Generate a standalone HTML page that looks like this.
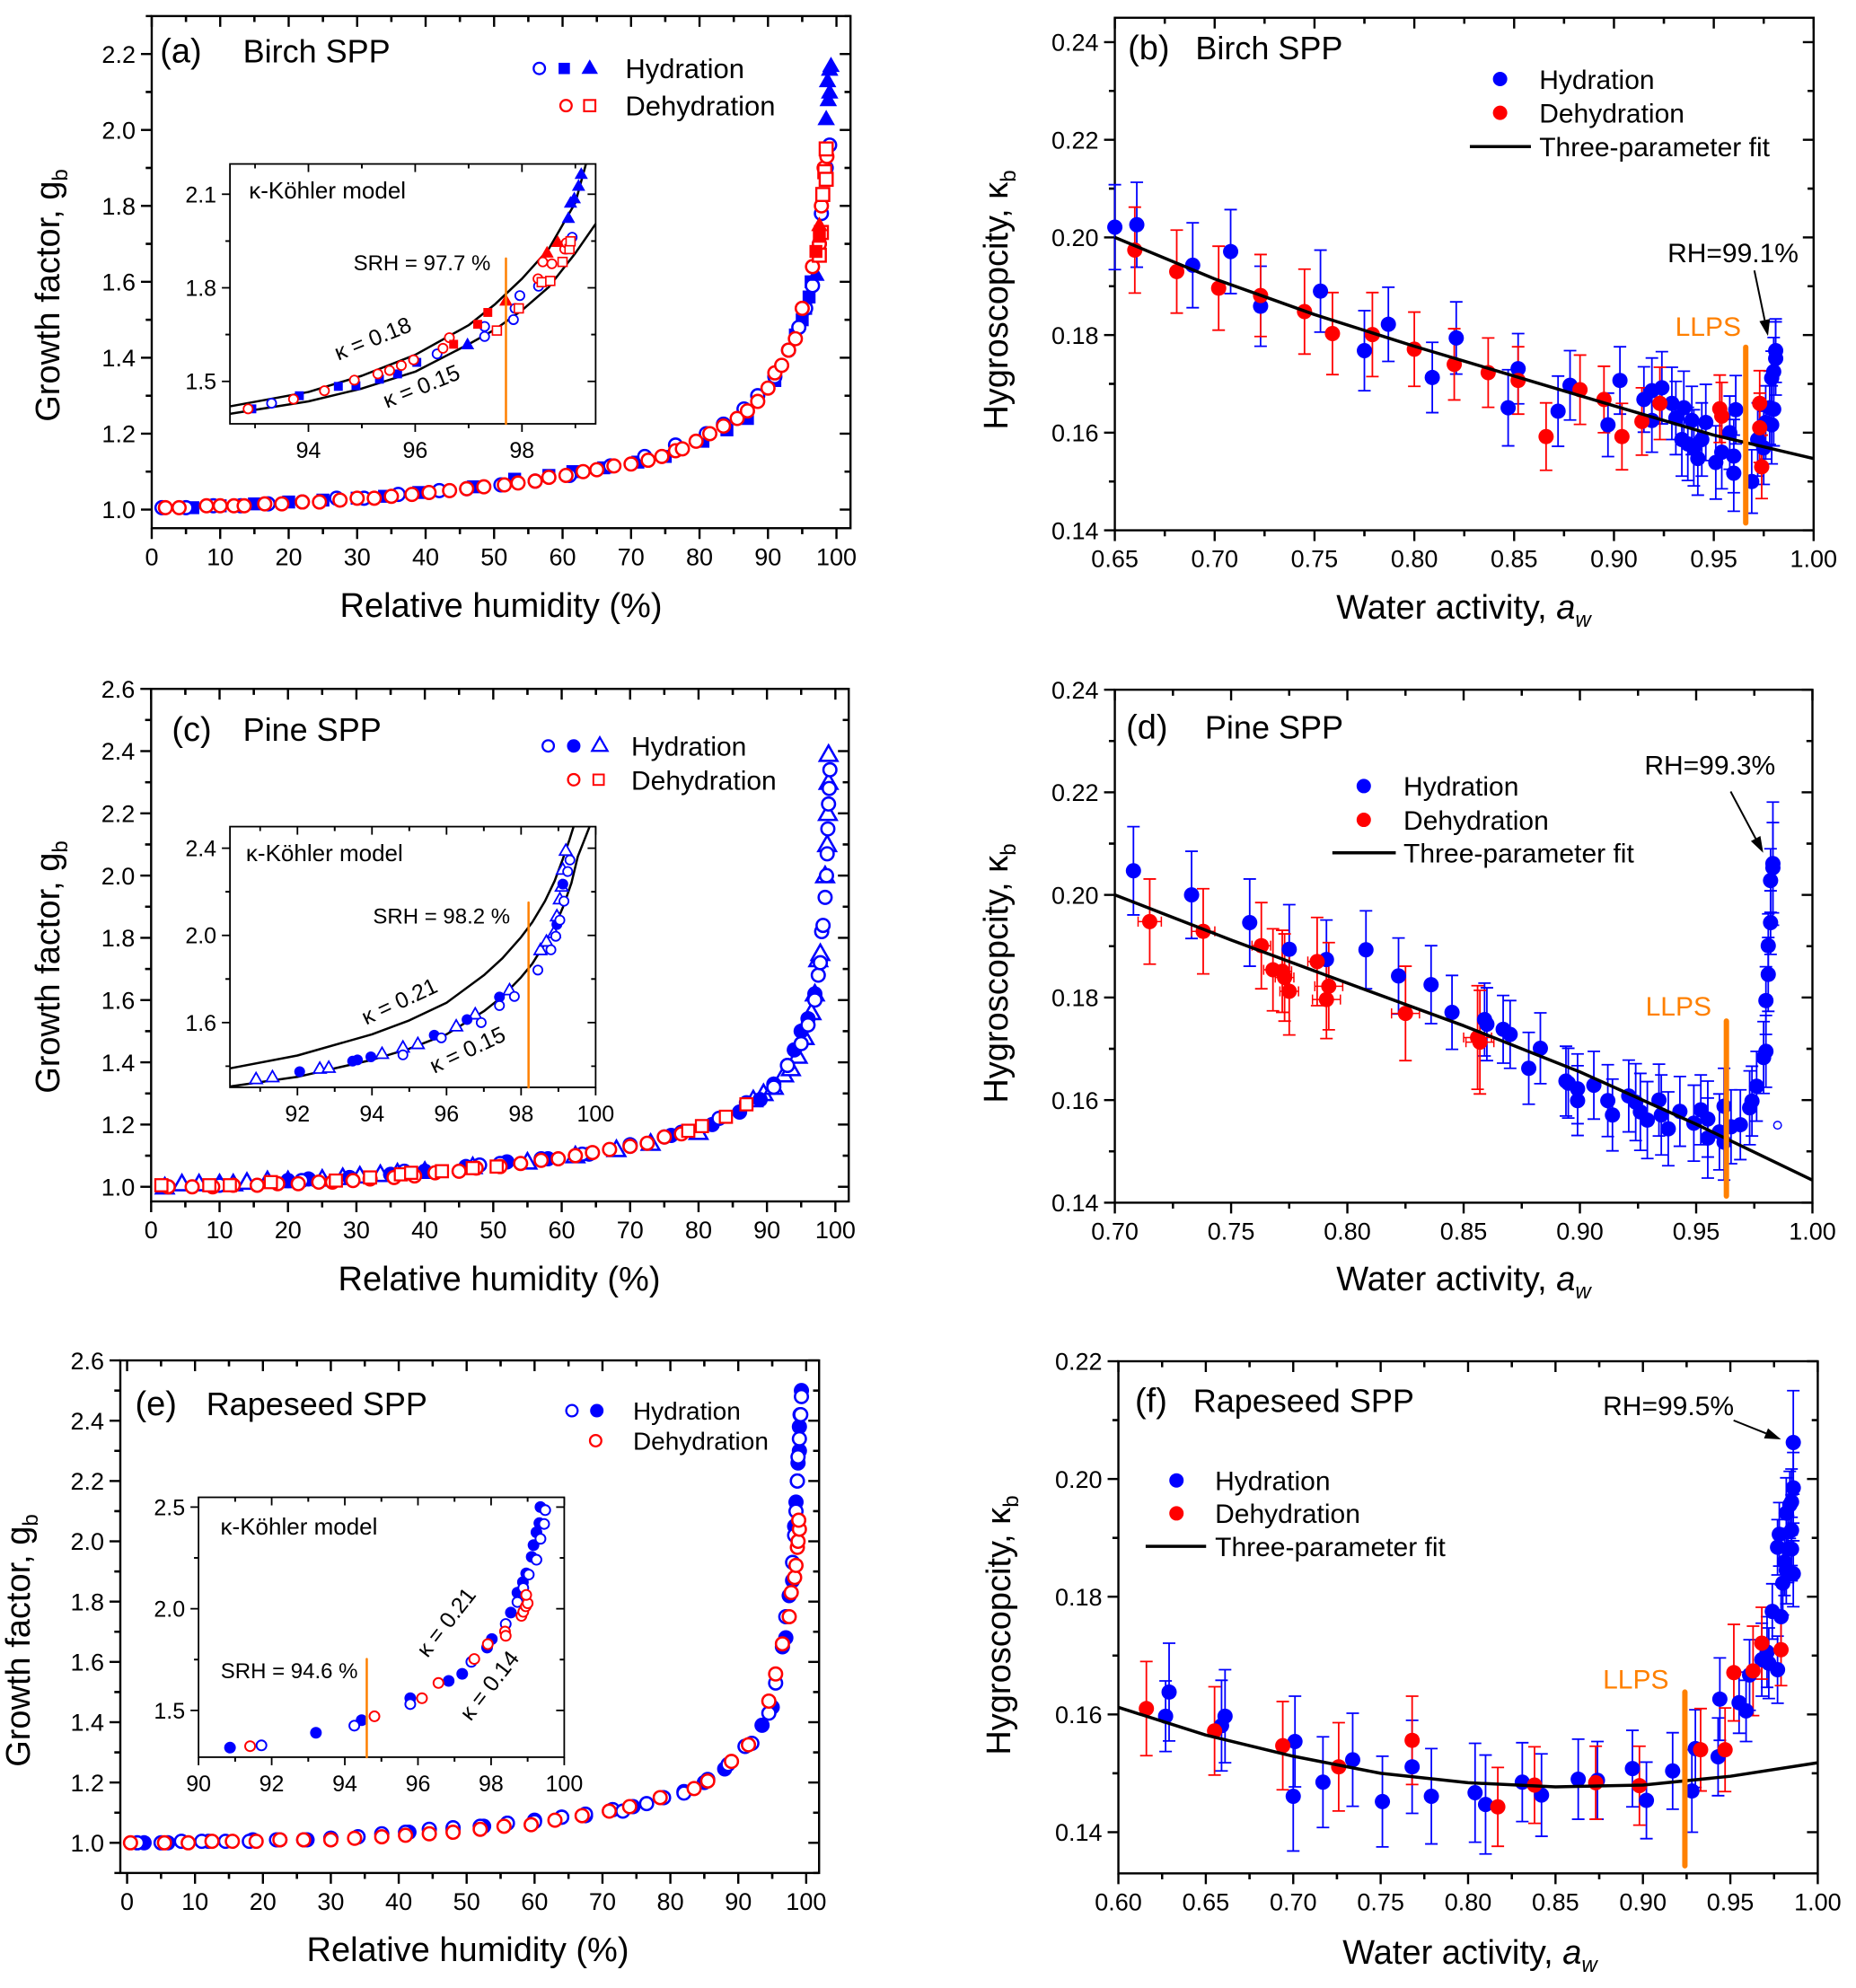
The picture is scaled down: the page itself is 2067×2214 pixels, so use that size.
<!DOCTYPE html>
<html><head><meta charset="utf-8"><style>
html,body{margin:0;padding:0;background:#fff;}
svg{display:block;font-family:"Liberation Sans",Arial,sans-serif;}
</style></head>
<body>
<svg id="fig" xmlns="http://www.w3.org/2000/svg" width="2067" height="2214" viewBox="0 0 2067 2214">
<rect x="0" y="0" width="2067" height="2214" fill="#fff"/>
</svg>
<script>
// ---------------- DATA ----------------
const A_hydOC=[[1.5,1.005],[5,1.005],[9,1.01],[13,1.01],[17,1.015],[22,1.02],[27,1.03],[31,1.03],[36,1.04],[42,1.05],[46,1.055],[51,1.065],[56,1.075],[61,1.09],[67,1.115],[72,1.14],[76.5,1.17],[81,1.2],[83.5,1.225],[86.5,1.265],[88.5,1.3],[91,1.35],[93,1.42],[94.5,1.48],[95.5,1.53],[96.5,1.59],[97.5,1.7],[97.8,1.78],[98.5,1.9],[99,1.96]];
const A_hydFS=[[6,1.005],[10,1.01],[15,1.015],[20,1.02],[25,1.025],[30,1.03],[34,1.035],[39,1.045],[47,1.06],[53,1.08],[58,1.09],[61.5,1.1],[66,1.11],[71,1.125],[75,1.14],[80.5,1.18],[84,1.21],[87,1.24],[91,1.34],[94,1.46],[95,1.5],[95.5,1.53],[96,1.56],[96.3,1.6]];
const A_hydFT=[[97,1.62],[98.5,2.03],[98.8,2.08],[99,2.1],[98.7,2.13],[99.2,2.17],[99,2.16]];
const A_dehOC=[[2,1.005],[4,1.005],[8,1.01],[10,1.01],[12,1.01],[13.5,1.01],[16.5,1.015],[19,1.015],[22,1.02],[24.5,1.02],[27.5,1.025],[30,1.03],[32.5,1.03],[35,1.035],[38,1.04],[40.5,1.045],[43.5,1.05],[46,1.055],[48.5,1.06],[51.5,1.065],[53.5,1.07],[56,1.075],[58,1.085],[60.5,1.09],[63,1.1],[65,1.105],[67.5,1.115],[70,1.12],[72.5,1.13],[74.5,1.14],[76.5,1.155],[77.5,1.16],[79.5,1.18],[81.5,1.2],[83.5,1.22],[85.5,1.24],[87,1.26],[88.5,1.285],[90,1.32],[91,1.36],[92,1.38],[93,1.42],[94,1.45],[95,1.53],[96.5,1.64],[97.5,1.7],[97.8,1.8],[98.2,1.9],[98.6,1.93]];
const A_dehOS=[[97.5,1.67],[97.8,1.73],[98,1.83],[98.3,1.89],[98.5,1.95],[98.5,1.87]];
const A_dehFS=[[97,1.68],[97.5,1.72]];
const A_dehFT=[[97.5,1.75]];
const Ai_hydOC=[[93.31,1.43],[95.97,1.569],[96.41,1.588],[97.3,1.644],[97.3,1.676],[97.84,1.698],[97.87,1.734],[97.96,1.775],[98.31,1.805],[98.83,1.924],[98.94,1.962]];
const Ai_hydFS=[[92.94,1.412],[93.83,1.454],[94.56,1.484],[94.89,1.486],[95.33,1.507],[95.67,1.524],[96.03,1.561]];
const Ai_hydFT=[[96.98,1.619],[99.11,2.165],[99.06,2.127],[98.91,2.073],[98.87,2.024],[98.98,2.087]];
const Ai_dehOC=[[92.87,1.412],[93.72,1.443],[94.3,1.47],[94.86,1.504],[95.3,1.524],[95.52,1.535],[95.74,1.551],[95.97,1.569],[96.52,1.606],[96.64,1.64],[98.3,1.829],[98.39,1.883],[98.56,1.877],[98.8,1.924],[98.83,1.944]];
const Ai_dehOS=[[97.53,1.663],[97.94,1.734],[98.37,1.818],[98.53,1.822],[98.76,1.883],[98.89,1.924],[98.91,1.949]];
const Ai_dehFS=[[96.72,1.619],[97.17,1.683],[97.36,1.721]];
const Ai_dehFT=[[97.7,1.759],[98.47,1.913],[98.67,1.947]];
const Ai_k18X=[92.53,94,95,96,97,97.5,98,98.5,99,99.2];
const Ai_k18Y=[1.42,1.466,1.518,1.585,1.68,1.748,1.829,1.924,2.073,2.198];
const Ai_k15X=[92.53,94,95,96,97,97.5,98,98.5,99,99.38];
const Ai_k15Y=[1.396,1.436,1.477,1.531,1.619,1.667,1.728,1.802,1.911,2.005];
const Ai_SRH=97.7, Ai_SRHtop=1.894;

const B_hyd=[[0.65,0.2021,0.0087],[0.661,0.2026,0.0087],[0.689,0.1943,0.0087],[0.708,0.1971,0.0086],[0.723,0.1859,0.0082],[0.753,0.189,0.0084],[0.775,0.1768,0.0082],[0.787,0.1822,0.0076],[0.809,0.1713,0.0072],[0.821,0.1794,0.0074],[0.847,0.1651,0.0078],[0.852,0.1731,0.0072],[0.872,0.1644,0.0072],[0.878,0.1697,0.0071],[0.897,0.1616,0.0065],[0.903,0.1707,0.0069],[0.915,0.1668,0.0067],[0.919,0.1686,0.0067],[0.919,0.1625,0.0065],[0.924,0.1692,0.0074],[0.929,0.166,0.0074],[0.931,0.163,0.0075],[0.934,0.1586,0.0075],[0.935,0.1651,0.0075],[0.937,0.1577,0.0075],[0.939,0.1625,0.007],[0.94,0.1569,0.0078],[0.942,0.1547,0.0075],[0.944,0.1586,0.0075],[0.946,0.1621,0.0078],[0.951,0.1539,0.0075],[0.954,0.156,0.0075],[0.958,0.16,0.0075],[0.96,0.1517,0.0078],[0.961,0.1647,0.007],[0.96,0.1552,0.0075],[0.969,0.15,0.0065],[0.972,0.1586,0.0075],[0.975,0.1569,0.0075],[0.976,0.1621,0.0075],[0.978,0.1651,0.0075],[0.979,0.1712,0.0055],[0.98,0.1725,0.007],[0.981,0.1752,0.0075],[0.981,0.1768,0.0065],[0.979,0.1616,0.008],[0.98,0.1648,0.0075]];
const B_deh=[[0.66,0.1974,0.0088],[0.681,0.193,0.0085],[0.702,0.1896,0.0086],[0.723,0.1881,0.0084],[0.745,0.1848,0.0087],[0.759,0.1803,0.0084],[0.779,0.1801,0.0086],[0.8,0.1771,0.0076],[0.82,0.174,0.0073],[0.837,0.1723,0.0071],[0.852,0.1707,0.0069],[0.866,0.1592,0.0069],[0.883,0.1688,0.0071],[0.895,0.1668,0.0068],[0.904,0.1592,0.0068],[0.914,0.1623,0.0069],[0.923,0.166,0.0074],[0.953,0.1649,0.0069],[0.954,0.1634,0.0069],[0.973,0.166,0.0067],[0.973,0.161,0.0071],[0.974,0.153,0.0065]];
const B_fitX=[0.65,0.70,0.75,0.80,0.85,0.90,0.95,1.00];
const B_fitY=[0.2,0.1915,0.1842,0.1777,0.1716,0.1655,0.1595,0.1547];
const B_llpsX=0.966, B_llpsTop=0.1775, B_llpsBot=0.1415;

const C_hydOT=[[2,1.0],[4.5,1.01],[7,1.01],[10,1.01],[12,1.01],[14,1.015],[17,1.02],[20,1.02],[25,1.025],[28,1.03],[30.5,1.035],[33.5,1.04],[36,1.045],[40,1.05],[47,1.065],[55,1.08],[62,1.1],[68,1.12],[73,1.14],[80,1.175],[88,1.28],[89.5,1.3],[91,1.32],[92.5,1.36],[93.5,1.38],[94.5,1.42],[95.5,1.48],[96.5,1.56],[97,1.62],[97.5,1.73],[97.8,1.75],[98.5,2.0],[98.8,2.1],[98.9,2.2],[99,2.3],[99,2.39]];
const C_hydFC=[[20,1.02],[23,1.025],[29,1.03],[35,1.04],[40,1.05],[46,1.065],[52,1.08],[58,1.09],[64,1.105],[70,1.135],[76,1.165],[82,1.2],[86,1.24],[89,1.28],[91,1.33],[93,1.39],[94,1.44],[95,1.5],[96,1.54],[97,1.62]];
const C_hydOC=[[2.5,1.0],[10,1.005],[22,1.02],[37,1.05],[48,1.07],[51,1.075],[57,1.09],[63,1.105],[70,1.13],[75,1.16],[77.5,1.175],[83,1.22],[87,1.27],[91,1.32],[93,1.39],[95,1.46],[96,1.52],[97,1.6],[97.5,1.68],[97.8,1.72],[98,1.82],[98.2,1.84],[98.5,1.93],[98.7,2.0],[98.8,2.07],[98.9,2.15],[99,2.23],[99.1,2.28],[99.2,2.34]];
const C_dehOC=[[2.5,1.0],[6,1.0],[9,1.0],[12,1.005],[15.5,1.005],[18.5,1.01],[21.5,1.01],[24.5,1.015],[26.5,1.015],[29.5,1.02],[32,1.025],[35.5,1.03],[38.5,1.035],[41.5,1.045],[45,1.05],[47.5,1.06],[51,1.065],[54,1.075],[57,1.085],[59.5,1.09],[62,1.1],[64.5,1.11],[67,1.12],[70,1.13],[72.5,1.14],[75,1.16],[77.5,1.17]];
const C_dehOS=[[1.5,1.005],[8.5,1.005],[11.5,1.005],[17.5,1.015],[27,1.02],[32,1.03],[36.5,1.04],[38,1.045],[42.5,1.05],[47,1.06],[50.5,1.065],[78.5,1.18],[80.5,1.195],[84,1.225],[87,1.265]];
const Ci_hydOT=[[90.89,1.342],[91.33,1.351],[92.6,1.39],[92.84,1.394],[94.27,1.458],[94.83,1.487],[95.23,1.503],[96.26,1.584],[96.77,1.639],[97.69,1.75],[98.52,1.934],[98.68,1.973],[98.88,2.012],[98.96,2.089],[99.04,2.167],[99.09,2.225],[99.12,2.303],[99.2,2.39]];
const Ci_hydFC=[[92.06,1.375],[93.48,1.423],[93.61,1.429],[93.97,1.443],[95.67,1.542],[96.55,1.614],[97.42,1.717],[98.96,2.05],[99.12,2.235]];
const Ci_hydOC=[[94.83,1.452],[95.86,1.53],[96.93,1.6],[97.42,1.678],[97.82,1.72],[98.45,1.841],[98.8,1.934],[98.93,1.996],[99.04,2.07],[99.15,2.157],[99.25,2.293],[99.31,2.346]];
const Ci_k21X=[90.19,92,94,95,96,97,97.5,98,98.3,98.64,98.9,99.12,99.3,99.41];
const Ci_k21Y=[1.39,1.449,1.546,1.61,1.691,1.817,1.895,1.992,2.06,2.157,2.25,2.351,2.44,2.5];
const Ci_k15X=[90.19,92,94,95,96,97,97.5,98,98.3,98.64,98.9,99.12,99.35,99.52,99.84];
const Ci_k15Y=[1.307,1.351,1.429,1.48,1.546,1.652,1.72,1.808,1.87,1.963,2.04,2.128,2.24,2.361,2.5];
const Ci_SRH=98.2, Ci_SRHtop=2.151;

const D_hyd=[[0.708,0.2047,0.0086],[0.733,0.2,0.0085],[0.758,0.1946,0.0085],[0.775,0.1894,0.0087],[0.791,0.1874,0.0077],[0.808,0.1893,0.0076],[0.822,0.1842,0.0074],[0.836,0.1825,0.0076],[0.845,0.1771,0.0072],[0.859,0.1757,0.0071],[0.86,0.1748,0.0071],[0.867,0.1738,0.0066],[0.87,0.1728,0.0066],[0.878,0.1662,0.007],[0.883,0.1701,0.0069],[0.894,0.1637,0.0068],[0.895,0.1633,0.0068],[0.899,0.1599,0.0068],[0.899,0.1622,0.0068],[0.906,0.1629,0.0066],[0.912,0.1599,0.007],[0.914,0.1571,0.007],[0.921,0.1608,0.007],[0.924,0.1596,0.0075],[0.926,0.1577,0.0075],[0.929,0.1561,0.0075],[0.934,0.16,0.007],[0.935,0.1571,0.0078],[0.938,0.1544,0.0072],[0.943,0.1578,0.0068],[0.949,0.1555,0.0074],[0.952,0.1581,0.0068],[0.955,0.1563,0.0074],[0.955,0.1526,0.0078],[0.96,0.1538,0.0074],[0.962,0.1588,0.0074],[0.962,0.1518,0.0074],[0.965,0.1548,0.0072],[0.969,0.1552,0.0068],[0.973,0.1585,0.0072],[0.974,0.1598,0.0068],[0.976,0.1627,0.0068],[0.979,0.1683,0.007],[0.98,0.1695,0.007],[0.98,0.1794,0.0066],[0.981,0.1845,0.0072],[0.981,0.1901,0.0062],[0.982,0.1946,0.0062],[0.982,0.2028,0.0062],[0.983,0.2053,0.0088],[0.983,0.2061,0.012]];
const D_hydOpen=[[0.985,0.1551]];
const D_deh=[[0.715,0.1948,0.0083],[0.738,0.1929,0.0083],[0.763,0.1901,0.0084],[0.768,0.1854,0.008],[0.772,0.1851,0.008],[0.773,0.1839,0.0085],[0.775,0.1812,0.0085],[0.787,0.187,0.0086],[0.791,0.1796,0.0076],[0.792,0.1822,0.0085],[0.825,0.1769,0.0092],[0.856,0.1722,0.0101],[0.857,0.1713,0.0101]];
const D_dehXerr=[0.005,0.005,0.004,0.004,0.004,0.004,0.004,0.004,0.006,0.006,0.006,0.006,0.006];
const D_fitX=[0.70,0.75,0.80,0.85,0.90,0.95,1.00];
const D_fitY=[0.2,0.1912,0.1828,0.1745,0.1655,0.1553,0.1444];
const D_llpsX=0.963, D_llpsTop=0.1754, D_llpsBot=0.1413;

const E_hydOC=[[1.5,1.0],[5,1.0],[8,1.005],[11,1.005],[14.5,1.005],[18,1.005],[22,1.01],[26,1.01],[30,1.015],[34,1.02],[37.5,1.03],[41,1.035],[44.5,1.045],[48,1.05],[52,1.055],[56,1.065],[60,1.07],[64,1.085],[67.5,1.095],[71.5,1.11],[73,1.105],[76.5,1.13],[79,1.15],[82,1.165],[85.5,1.21],[88.5,1.26],[91,1.32],[92,1.33],[94.5,1.43],[95.5,1.53],[97,1.75],[98,1.93],[98.3,2.02],[98.5,2.1],[98.7,2.2],[98.8,2.28],[99,2.34],[99.2,2.42],[99.3,2.48]];
const E_hydFC=[[2.5,1.0],[6,1.0],[12,1.005],[18.5,1.01],[22.5,1.01],[26.5,1.01],[30,1.015],[34,1.02],[41.5,1.035],[48,1.045],[52.5,1.055],[56,1.065],[60,1.075],[64,1.085],[67.5,1.09],[71.5,1.11],[74.5,1.12],[82,1.17],[85,1.2],[88,1.245],[91,1.32],[93.5,1.39],[95,1.45],[96.5,1.65],[97,1.68],[97.5,1.82],[98,1.87],[98.3,2.05],[98.5,2.13],[98.7,2.2],[98.8,2.26],[99,2.3],[99,2.38],[99.1,2.42],[99.3,2.5]];
const E_dehOC=[[0.5,1.0],[5.5,1.0],[9,1.0],[12.5,1.005],[15.5,1.005],[19,1.005],[22.5,1.01],[26,1.01],[30,1.01],[33.5,1.015],[37.5,1.02],[41,1.025],[44.5,1.03],[48,1.035],[52,1.045],[55.5,1.055],[59.5,1.06],[63,1.075],[67,1.09],[71,1.105],[74,1.12],[78.5,1.15],[83.5,1.18],[85.5,1.205],[89,1.27],[91.5,1.325],[94.5,1.47],[95.5,1.56],[96.5,1.66],[97.5,1.75],[97.8,1.83],[98.3,1.88],[98.5,1.92],[98.7,1.98],[98.8,2.0],[99,2.04],[98.9,2.07]];
const Ei_hydFC=[[90.86,1.317],[93.21,1.39],[94.46,1.452],[95.79,1.56],[96.84,1.645],[97.21,1.68],[97.89,1.809],[98.02,1.851],[98.54,1.981],[98.72,2.079],[98.87,2.131],[98.96,2.174],[99.11,2.255],[99.16,2.313],[99.24,2.376],[99.32,2.421],[99.35,2.5]];
const Ei_hydOC=[[91.72,1.328],[94.26,1.425],[95.79,1.531],[97.46,1.739],[98.4,1.925],[98.72,2.033],[98.88,2.102],[99.03,2.168],[99.24,2.241],[99.35,2.344],[99.45,2.417],[99.48,2.485]];
const Ei_dehOC=[[91.41,1.324],[94.81,1.471],[96.11,1.56],[96.56,1.635],[97.54,1.753],[97.91,1.826],[98.38,1.888],[98.4,1.867],[98.83,1.965],[98.88,1.985],[98.95,2.012],[99.0,2.027],[98.96,2.068]];
const Ei_SRH=94.6, Ei_SRHtop=1.753;

const F_hyd=[[0.627,0.1597,0.006],[0.629,0.1638,0.0083],[0.659,0.1581,0.0077],[0.661,0.1597,0.0079],[0.7,0.1461,0.0093],[0.701,0.1554,0.0077],[0.717,0.1485,0.0077],[0.734,0.1523,0.0079],[0.751,0.1452,0.0077],[0.768,0.1511,0.0079],[0.779,0.1461,0.0081],[0.804,0.1467,0.0084],[0.81,0.1447,0.0084],[0.831,0.1485,0.0067],[0.842,0.1463,0.007],[0.863,0.149,0.0068],[0.874,0.1488,0.0066],[0.894,0.1508,0.0065],[0.902,0.1454,0.0065],[0.917,0.1504,0.0065],[0.928,0.147,0.007],[0.93,0.1542,0.0066],[0.944,0.1626,0.007],[0.943,0.1528,0.0066],[0.955,0.162,0.0052],[0.959,0.1606,0.0052],[0.961,0.1667,0.006],[0.968,0.1693,0.0062],[0.971,0.1706,0.006],[0.972,0.1687,0.006],[0.974,0.1775,0.0047],[0.977,0.1884,0.0047],[0.977,0.1676,0.0057],[0.978,0.1906,0.0054],[0.979,0.1766,0.0054],[0.98,0.1823,0.0054],[0.981,0.1859,0.0057],[0.982,0.1942,0.006],[0.982,0.1845,0.0057],[0.983,0.1881,0.0057],[0.984,0.1956,0.0057],[0.985,0.1913,0.006],[0.985,0.1881,0.0054],[0.986,0.2062,0.0088],[0.986,0.1985,0.006],[0.986,0.1839,0.0056],[0.985,0.1961,0.0056]];
const F_deh=[[0.616,0.161,0.008],[0.655,0.1572,0.0075],[0.694,0.1547,0.0075],[0.726,0.1511,0.0075],[0.768,0.1556,0.0075],[0.817,0.1443,0.0067],[0.838,0.148,0.0065],[0.873,0.1484,0.0062],[0.898,0.1479,0.0067],[0.933,0.154,0.007],[0.947,0.154,0.0071],[0.952,0.1671,0.0082],[0.963,0.1674,0.0076],[0.968,0.1721,0.0061],[0.979,0.171,0.0061]];
const F_fitX=[0.60,0.65,0.70,0.75,0.80,0.85,0.90,0.95,1.00];
const F_fitY=[0.1612,0.1565,0.1529,0.15,0.1484,0.1477,0.148,0.1495,0.1518];
const F_llpsX=0.924, F_llpsTop=0.1638, F_llpsBot=0.1343;

const RH_ticks=[0,10,20,30,40,50,60,70,80,90,100];
const RH_labels=['0','10','20','30','40','50','60','70','80','90','100'];
const A_yTicks=[1.0,1.2,1.4,1.6,1.8,2.0,2.2];
const A_yLabels=['1.0','1.2','1.4','1.6','1.8','2.0','2.2'];
const CE_yTicks=[1.0,1.2,1.4,1.6,1.8,2.0,2.2,2.4,2.6];
const CE_yLabels=['1.0','1.2','1.4','1.6','1.8','2.0','2.2','2.4','2.6'];
const B_xTicks=[0.65,0.70,0.75,0.80,0.85,0.90,0.95,1.00];
const B_xLabels=['0.65','0.70','0.75','0.80','0.85','0.90','0.95','1.00'];
const BD_yTicks=[0.14,0.16,0.18,0.20,0.22,0.24];
const BD_yLabels=['0.14','0.16','0.18','0.20','0.22','0.24'];
const D_xTicks=[0.70,0.75,0.80,0.85,0.90,0.95,1.00];
const D_xLabels=['0.70','0.75','0.80','0.85','0.90','0.95','1.00'];
const F_xTicks=[0.60,0.65,0.70,0.75,0.80,0.85,0.90,0.95,1.00];
const F_xLabels=['0.60','0.65','0.70','0.75','0.80','0.85','0.90','0.95','1.00'];
const F_yTicks=[0.14,0.16,0.18,0.20,0.22];
const F_yLabels=['0.14','0.16','0.18','0.20','0.22'];
const Ai_xTicks=[94,96,98], Ai_xLabels=['94','96','98'];
const Ai_yTicks=[1.5,1.8,2.1], Ai_yLabels=['1.5','1.8','2.1'];
const Ci_xTicks=[92,94,96,98,100], Ci_xLabels=['92','94','96','98','100'];
const Ci_yTicks=[1.6,2.0,2.4], Ci_yLabels=['1.6','2.0','2.4'];
const Ei_xTicks=[90,92,94,96,98,100], Ei_xLabels=['90','92','94','96','98','100'];
const Ei_yTicks=[1.5,2.0,2.5], Ei_yLabels=['1.5','2.0','2.5'];

// ---------------- DRAWING ----------------
const NS='http://www.w3.org/2000/svg';
const svg=document.getElementById('fig');
const BLUE='#0000ff', RED='#ff0000', ORANGE='#ff8000';
function mk(tag,attrs,parent){const e=document.createElementNS(NS,tag);for(const k in attrs)e.setAttribute(k,attrs[k]);parent.appendChild(e);return e;}
function PX(zx,ox){return ox+zx/1.515;}
function PY(zy,oy){return oy+zy/2.125;}

function makePanel(name,ox,oy,zx0,zx1,zy0,zy1,xd,yd){
  const g=mk('g',{},svg);
  
  
  const x0=PX(zx0,ox),x1=PX(zx1,ox),y0=PY(zy0,oy),y1=PY(zy1,oy);
  const sx=v=>x0+(v-xd[0])/(xd[1]-xd[0])*(x1-x0);
  const sy=v=>y1-(v-yd[0])/(yd[1]-yd[0])*(y1-y0);
  return {g,x0,x1,y0,y1,sx,sy,xd,yd,ox,oy};
}
function axes(P,xt,xl,yt,yl,fs,L,lw,pre){
  const g=mk('g',{},P.g);
  
  
  const fr=mk('rect',{x:P.x0,y:P.y0,width:P.x1-P.x0,height:P.y1-P.y0,fill:'none',stroke:'#000','stroke-width':lw},g);
  
  
  const ml=L*0.55;
  const dx=xt[1]-xt[0], dy=yt[1]-yt[0];
  const xs=[];for(let i=0;i<xt.length;i++){xs.push([xt[i],L]);xs.push([xt[i]+dx/2,ml]);xs.push([xt[i]-dx/2,ml]);}
  xs.forEach(([v,l])=>{const X=P.sx(v);if(X<P.x0-0.5||X>P.x1+0.5)return;
    const t=mk('line',{x1:X,y1:P.y1,x2:X,y2:P.y1+l,stroke:'#000','stroke-width':lw},g);
    
    
    const t2=mk('line',{x1:X,y1:P.y0,x2:X,y2:P.y0+l,stroke:'#000','stroke-width':lw},g);
    
    });
  const ys=[];for(let i=0;i<yt.length;i++){ys.push([yt[i],L]);ys.push([yt[i]+dy/2,ml]);ys.push([yt[i]-dy/2,ml]);}
  ys.forEach(([v,l])=>{const Y=P.sy(v);if(Y<P.y0-0.5||Y>P.y1+0.5)return;
    const t=mk('line',{x1:P.x0-l,y1:Y,x2:P.x0,y2:Y,stroke:'#000','stroke-width':lw},g);
    
    
    const t2=mk('line',{x1:P.x1-l,y1:Y,x2:P.x1,y2:Y,stroke:'#000','stroke-width':lw},g);
    
    });
  xt.forEach((v,i)=>{const t=mk('text',{x:P.sx(v),y:P.y1+fs*1.52,'font-size':fs,'text-anchor':'middle'},g);t.textContent=xl[i];
    
    });
  yt.forEach((v,i)=>{const t=mk('text',{x:P.x0-L-6,y:P.sy(v)+fs*0.36,'font-size':fs,'text-anchor':'end'},g);t.textContent=yl[i];
    
    });
}
function marker(parent,kind,cx,cy,r,color,name){
  let e;const sw=r*0.3;
  if(kind==='oc'||kind==='fc'){e=mk('circle',{cx:cx,cy:cy,r:kind==='oc'?r-sw/2:r,fill:kind==='fc'?color:'#fff',stroke:color,'stroke-width':kind==='oc'?sw:0},parent);}
  else if(kind==='os'||kind==='fs'){const s=r*0.9;e=mk('rect',{x:cx-s,y:cy-s,width:2*s,height:2*s,fill:kind==='fs'?color:'#fff',stroke:color,'stroke-width':kind==='os'?sw:0},parent);}
  else {const s=r*1.15;e=mk('polygon',{points:`${cx},${cy-s} ${cx+s},${cy+s*0.75} ${cx-s},${cy+s*0.75}`,fill:kind==='ft'?color:'#fff',stroke:color,'stroke-width':kind==='ot'?sw:0},parent);}
  
  
  return e;
}
function scatter(P,data,kind,color,r,name){
  const g=mk('g',{},P.g);
  
  
  data.forEach(d=>marker(g,kind,P.sx(d[0]),P.sy(d[1]),r,color,name+'-point'));
}
function errs(P,data,color,cap,name,xerr){
  const g=mk('g',{},P.g);
  
  
  data.forEach((d,i)=>{const X=P.sx(d[0]),Yt=P.sy(d[1]+d[2]),Yb=P.sy(d[1]-d[2]);
    const l=mk('path',{d:`M${X},${Yt}V${Yb}M${X-cap},${Yt}H${X+cap}M${X-cap},${Yb}H${X+cap}`,stroke:color,'stroke-width':1.8,fill:'none'},g);
    
    
    if(xerr){const Y=P.sy(d[1]),Xl=P.sx(d[0]-xerr[i]),Xr=P.sx(d[0]+xerr[i]);
      const h=mk('path',{d:`M${Xl},${Y}H${Xr}M${Xl},${Y-cap*0.8}V${Y+cap*0.8}M${Xr},${Y-cap*0.8}V${Y+cap*0.8}`,stroke:color,'stroke-width':1.5,fill:'none'},g);
      
      }
  });
}
function curve(P,xs,ys,color,w,name){
  const pts=xs.map((x,i)=>P.sx(x)+','+P.sy(ys[i])).join(' ');
  const l=mk('polyline',{points:pts,fill:'none',stroke:color,'stroke-width':w,'stroke-linejoin':'round'},P.g);
  
  
}
function vbar(P,x,ytop,ybot,w,name){
  const l=mk('line',{x1:P.sx(x),x2:P.sx(x),y1:P.sy(ytop),y2:P.sy(ybot),stroke:ORANGE,'stroke-width':w,'stroke-linecap':'round'},P.g);
  
  
}
function txt(parent,x,y,s,fs,name,anchor,extra){
  const t=mk('text',Object.assign({x:x,y:y,'font-size':fs,'text-anchor':anchor||'start'},extra||{}),parent);
  t.textContent=s;
  
  
  return t;
}
function rtxt(parent,cx,cy,s,fs,ang,name){
  const t=mk('text',{x:0,y:0,'font-size':fs,'text-anchor':'middle','dominant-baseline':'middle',transform:`translate(${cx},${cy}) rotate(${ang})`},parent);
  t.textContent=s;
  
  
}
function xTitle(P,cx,by,isRH,name){
  const t=mk('text',{x:cx,y:by,'font-size':38,'text-anchor':'middle'},P.g);
  
  
  if(isRH){t.textContent='Relative humidity (%)';}
  else{t.appendChild(document.createTextNode('Water activity, '));
    const a=mk('tspan',{'font-style':'italic'},t);a.textContent='a';
    const w=mk('tspan',{'font-style':'italic','font-size':24,dy:9},t);w.textContent='w';}
}
function yTitle(P,cx,cy,isG,name){
  const t=mk('text',{x:0,y:0,'font-size':38,'text-anchor':'middle',transform:`translate(${cx},${cy}) rotate(-90)`},P.g);
  
  
  t.appendChild(document.createTextNode(isG?'Growth factor, g':'Hygroscopcity, κ'));
  const s=mk('tspan',{'font-size':24,dy:9},t);s.textContent='b';
}
function arrow(P,zx1,zy1,zx2,zy2,name){
  const x1=PX(zx1,P.ox),y1=PY(zy1,P.oy),x2=PX(zx2,P.ox),y2=PY(zy2,P.oy);
  const g=mk('g',{},P.g);
  
  
  const a=Math.atan2(y2-y1,x2-x1),L=18,W=6;
  const bx=x2-L*Math.cos(a),by=y2-L*Math.sin(a);
  mk('line',{x1:x1,y1:y1,x2:bx,y2:by,stroke:'#000','stroke-width':2},g);
  mk('polygon',{points:`${x2},${y2} ${bx-W*Math.sin(a)},${by+W*Math.cos(a)} ${bx+W*Math.sin(a)},${by-W*Math.cos(a)}`,fill:'#000'},g);
}
function label(P,zxA,zxB,zyb,letter,title){
  txt(P.g,PX(zxA,P.ox),PY(zyb,P.oy),letter,38,'panel-letter');
  txt(P.g,PX(zxB,P.ox),PY(zyb,P.oy),title,36,'panel-title');
}
function kLegend(P,zdx,zy1,zy2,zy3,zl0,zl1,ztx,fs){
  const g=mk('g',{},P.g);
  
  
  const ox=P.ox,oy=P.oy;
  marker(g,'fc',PX(zdx,ox),PY(zy1,oy),8,BLUE,'legend-hydration-marker');
  marker(g,'fc',PX(zdx,ox),PY(zy2,oy),8,RED,'legend-dehydration-marker');
  const l=mk('line',{x1:PX(zl0,ox),x2:PX(zl1,ox),y1:PY(zy3,oy),y2:PY(zy3,oy),stroke:'#000','stroke-width':3.5},g);
  
  
  txt(g,PX(ztx,ox),PY(zy1,oy)+fs*0.36,'Hydration',fs,'legend-hydration-label');
  txt(g,PX(ztx,ox),PY(zy2,oy)+fs*0.36,'Dehydration',fs,'legend-dehydration-label');
  txt(g,PX(ztx,ox),PY(zy3,oy)+fs*0.36,'Three-parameter fit',fs,'legend-fit-label');
}

// ===== Panel (a) =====
const A=makePanel('panel-a',0,0,256,1435,38,1250,[0,102.05],[0.951,2.30]);
axes(A,RH_ticks,RH_labels,A_yTicks,A_yLabels,27,12,2.4,'a');
scatter(A,A_hydFS,'fs',BLUE,8,'a-hydration-square');
scatter(A,A_hydOC,'oc',BLUE,8.5,'a-hydration-circle');
scatter(A,A_hydFT,'ft',BLUE,8.5,'a-hydration-triangle');
scatter(A,A_dehOC,'oc',RED,8.5,'a-dehydration-circle');
scatter(A,A_dehOS,'os',RED,8,'a-dehydration-square');
scatter(A,A_dehFS,'fs',RED,8,'a-dehydration-filled-square');
scatter(A,A_dehFT,'ft',RED,8,'a-dehydration-triangle');
label(A,270,410,148,'(a)','Birch SPP');
(function(){const g=mk('g',{},A.g);
  
  
  marker(g,'oc',PX(910,0),PY(162,0),7.5,BLUE,'legend-marker');
  marker(g,'fs',PX(952,0),PY(162,0),7,BLUE,'legend-marker');
  marker(g,'ft',PX(995,0),PY(160,0),8,BLUE,'legend-marker');
  marker(g,'oc',PX(955,0),PY(250,0),7.5,RED,'legend-marker');
  marker(g,'os',PX(995,0),PY(250,0),7,RED,'legend-marker');
  txt(g,PX(1055,0),PY(162,0)+11,'Hydration',31,'legend-hydration-label');
  txt(g,PX(1055,0),PY(250,0)+11,'Dehydration',31,'legend-dehydration-label');})();
xTitle(A,558,687,true,'a-x-axis-title');
yTitle(A,66,329,true,'a-y-axis-title');
const Ai=makePanel('panel-a-inset',0,0,388,1005,388,1003,[92.53,99.38],[1.364,2.197]);
mk('rect',{x:Ai.x0,y:Ai.y0,width:Ai.x1-Ai.x0,height:Ai.y1-Ai.y0,fill:'#fff'},Ai.g);
axes(Ai,Ai_xTicks,Ai_xLabels,Ai_yTicks,Ai_yLabels,25,9,1.8,'a-inset');
curve(Ai,Ai_k18X,Ai_k18Y,'#000',2.5,'a-inset-kappa-018-curve');
curve(Ai,Ai_k15X,Ai_k15Y,'#000',2.5,'a-inset-kappa-015-curve');
scatter(Ai,Ai_hydFS,'fs',BLUE,5.5,'a-inset-hydration-square');
scatter(Ai,Ai_hydOC,'oc',BLUE,6,'a-inset-hydration-circle');
scatter(Ai,Ai_hydFT,'ft',BLUE,6.5,'a-inset-hydration-triangle');
scatter(Ai,Ai_dehOC,'oc',RED,6,'a-inset-dehydration-circle');
scatter(Ai,Ai_dehOS,'os',RED,5.5,'a-inset-dehydration-square');
scatter(Ai,Ai_dehFS,'fs',RED,5.5,'a-inset-dehydration-filled-square');
scatter(Ai,Ai_dehFT,'ft',RED,6.5,'a-inset-dehydration-triangle');
vbar(Ai,Ai_SRH,Ai_SRHtop,Ai.yd[0],2.5,'a-inset-srh-line');
txt(Ai.g,PX(420,0),PY(470,0),'κ-Köhler model',26,'a-inset-title');
txt(Ai.g,PX(712,0),PY(640,0),'SRH = 97.7 %',24,'a-inset-srh-label','middle');
rtxt(Ai.g,PX(630,0),PY(805,0),'κ = 0.18',25,-22,'a-inset-kappa-018-label');
rtxt(Ai.g,PX(712,0),PY(918,0),'κ = 0.15',25,-22,'a-inset-kappa-015-label');

// ===== Panel (b) =====
const B=makePanel('panel-b',1033,0,316,1495,42,1255,[0.65,1.0],[0.14,0.245]);
axes(B,B_xTicks,B_xLabels,BD_yTicks,BD_yLabels,27,12,2.4,'b');
errs(B,B_hyd,BLUE,7,'b-hydration');
errs(B,B_deh,RED,7,'b-dehydration');
scatter(B,B_hyd,'fc',BLUE,8.5,'b-hydration');
scatter(B,B_deh,'fc',RED,8.5,'b-dehydration');
curve(B,B_fitX,B_fitY,'#000',3.5,'b-fit-line');
vbar(B,B_llpsX,B_llpsTop,B_llpsBot,6,'b-llps-line');
label(B,338,452,140,'(b)','Birch SPP');
kLegend(B,966,187,267,347,915,1018,1032,30);
txt(B.g,PX(1317,1033),PY(795,0),'LLPS',30,'b-llps-label','middle',{fill:ORANGE});
txt(B.g,PX(1359,1033),PY(620,0),'RH=99.1%',30,'b-rh-annotation','middle');
arrow(B,1395,640,1418,795,'b-rh-arrow');
xTitle(B,1630,689,false,'b-x-axis-title');
yTitle(B,1122,334,false,'b-y-axis-title');

// ===== Panel (c) =====
const C=makePanel('panel-c',0,738,255,1432,62,1275,[0,101.95],[0.953,2.6]);
axes(C,RH_ticks,RH_labels,CE_yTicks,CE_yLabels,27,12,2.4,'c');
scatter(C,C_hydOT,'ot',BLUE,8.5,'c-hydration-triangle');
scatter(C,C_hydFC,'fc',BLUE,8.5,'c-hydration-filled-circle');
scatter(C,C_hydOC,'oc',BLUE,8.5,'c-hydration-circle');
scatter(C,C_dehOC,'oc',RED,8.5,'c-dehydration-circle');
scatter(C,C_dehOS,'os',RED,7.5,'c-dehydration-square');
label(C,290,410,185,'(c)','Pine SPP');
(function(){const g=mk('g',{},C.g);
  
  
  marker(g,'oc',PX(925,0),PY(197,738),7.5,BLUE,'legend-marker');
  marker(g,'fc',PX(968,0),PY(197,738),7.5,BLUE,'legend-marker');
  marker(g,'ot',PX(1012,0),PY(195,738),7.5,BLUE,'legend-marker');
  marker(g,'oc',PX(968,0),PY(277,738),7.5,RED,'legend-marker');
  marker(g,'os',PX(1010,0),PY(277,738),6.5,RED,'legend-marker');
  txt(g,PX(1065,0),PY(197,738)+11,'Hydration',30,'legend-hydration-label');
  txt(g,PX(1065,0),PY(277,738)+11,'Dehydration',30,'legend-dehydration-label');})();
xTitle(C,556,1437,true,'c-x-axis-title');
yTitle(C,66,1077,true,'c-y-axis-title');
const Ci=makePanel('panel-c-inset',0,738,388,1005,388,1005,[90.19,100],[1.303,2.499]);
mk('rect',{x:Ci.x0,y:Ci.y0,width:Ci.x1-Ci.x0,height:Ci.y1-Ci.y0,fill:'#fff'},Ci.g);
axes(Ci,Ci_xTicks,Ci_xLabels,Ci_yTicks,Ci_yLabels,25,9,1.8,'c-inset');
curve(Ci,Ci_k21X,Ci_k21Y,'#000',2.5,'c-inset-kappa-021-curve');
curve(Ci,Ci_k15X,Ci_k15Y,'#000',2.5,'c-inset-kappa-015-curve');
scatter(Ci,Ci_hydOT,'ot',BLUE,6,'c-inset-hydration-triangle');
scatter(Ci,Ci_hydFC,'fc',BLUE,6,'c-inset-hydration-filled-circle');
scatter(Ci,Ci_hydOC,'oc',BLUE,6,'c-inset-hydration-circle');
vbar(Ci,Ci_SRH,Ci_SRHtop,Ci.yd[0],2.5,'c-inset-srh-line');
txt(Ci.g,PX(415,0),PY(470,738),'κ-Köhler model',26,'c-inset-title');
txt(Ci.g,PX(745,0),PY(617,738),'SRH = 98.2 %',24,'c-inset-srh-label','middle');
rtxt(Ci.g,PX(675,0),PY(805,738),'κ = 0.21',25,-25,'c-inset-kappa-021-label');
rtxt(Ci.g,PX(790,0),PY(920,738),'κ = 0.15',25,-25,'c-inset-kappa-015-label');

// ===== Panel (d) =====
const D=makePanel('panel-d',1033,738,316,1493,64,1278,[0.70,1.0],[0.14,0.24]);
axes(D,D_xTicks,D_xLabels,BD_yTicks,BD_yLabels,27,12,2.4,'d');
errs(D,D_hyd,BLUE,7,'d-hydration');
errs(D,D_deh,RED,7,'d-dehydration',D_dehXerr);
scatter(D,D_hyd,'fc',BLUE,8.5,'d-hydration');
scatter(D,D_deh,'fc',RED,8.5,'d-dehydration');
scatter(D,D_hydOpen,'oc',BLUE,5,'d-hydration-open');
curve(D,D_fitX,D_fitY,'#000',3.5,'d-fit-line');
vbar(D,D_llpsX,D_llpsTop,D_llpsBot,6,'d-llps-line');
label(D,335,468,180,'(d)','Pine SPP');
kLegend(D,736,292,372,450,683,790,803,30);
txt(D.g,PX(1267,1033),PY(835,738),'LLPS',30,'d-llps-label','middle',{fill:ORANGE});
txt(D.g,PX(1320,1033),PY(265,738),'RH=99.3%',30,'d-rh-annotation','middle');
arrow(D,1355,305,1410,450,'d-rh-arrow');
xTitle(D,1630,1437,false,'d-x-axis-title');
yTitle(D,1122,1084,false,'d-y-axis-title');

// ===== Panel (e) =====
const E=makePanel('panel-e',0,1476,203,1382,83,1296,[-1.0,101.9],[0.90,2.6]);
axes(E,RH_ticks,RH_labels,CE_yTicks,CE_yLabels,27,12,2.4,'e');
scatter(E,E_hydFC,'fc',BLUE,8.5,'e-hydration-filled-circle');
scatter(E,E_hydOC,'oc',BLUE,8.5,'e-hydration-circle');
scatter(E,E_dehOC,'oc',RED,8.5,'e-dehydration-circle');
label(E,228,348,213,'(e)','Rapeseed SPP');
(function(){const g=mk('g',{},E.g);
  
  
  marker(g,'oc',PX(965,0),PY(202,1476),7.5,BLUE,'legend-marker');
  marker(g,'fc',PX(1007,0),PY(202,1476),7.5,BLUE,'legend-marker');
  marker(g,'oc',PX(1005,0),PY(273,1476),7.5,RED,'legend-marker');
  txt(g,PX(1068,0),PY(202,1476)+10,'Hydration',28,'legend-hydration-label');
  txt(g,PX(1068,0),PY(273,1476)+10,'Dehydration',28,'legend-dehydration-label');})();
xTitle(E,521,2184,true,'e-x-axis-title');
yTitle(E,33,1827,true,'e-y-axis-title');
const Ei=makePanel('panel-e-inset',0,1476,335,952,407,1022,[90,100],[1.27,2.548]);
mk('rect',{x:Ei.x0,y:Ei.y0,width:Ei.x1-Ei.x0,height:Ei.y1-Ei.y0,fill:'#fff'},Ei.g);
axes(Ei,Ei_xTicks,Ei_xLabels,Ei_yTicks,Ei_yLabels,25,9,1.8,'e-inset');
scatter(Ei,Ei_hydFC,'fc',BLUE,6.5,'e-inset-hydration-filled-circle');
scatter(Ei,Ei_hydOC,'oc',BLUE,6.5,'e-inset-hydration-circle');
scatter(Ei,Ei_dehOC,'oc',RED,6.5,'e-inset-dehydration-circle');
vbar(Ei,Ei_SRH,Ei_SRHtop,Ei.yd[0],2.5,'e-inset-srh-line');
txt(Ei.g,PX(372,0),PY(495,1476),'κ-Köhler model',26,'e-inset-title');
txt(Ei.g,PX(488,0),PY(835,1476),'SRH = 94.6 %',24,'e-inset-srh-label','middle');
rtxt(Ei.g,PX(755,0),PY(705,1476),'κ = 0.21',25,-52,'e-inset-kappa-021-label');
rtxt(Ei.g,PX(828,0),PY(855,1476),'κ = 0.14',25,-52,'e-inset-kappa-014-label');

// ===== Panel (f) =====
const F=makePanel('panel-f',1033,1476,322,1502,85,1297,[0.60,1.0],[0.133,0.22]);
axes(F,F_xTicks,F_xLabels,F_yTicks,F_yLabels,27,12,2.4,'f');
errs(F,F_hyd,BLUE,7,'f-hydration');
errs(F,F_deh,RED,7,'f-dehydration');
scatter(F,F_hyd,'fc',BLUE,8.5,'f-hydration');
scatter(F,F_deh,'fc',RED,8.5,'f-dehydration');
curve(F,F_fitX,F_fitY,'#000',3.5,'f-fit-line');
vbar(F,F_llpsX,F_llpsTop,F_llpsBot,6,'f-llps-line');
label(F,350,448,205,'(f)','Rapeseed SPP');
kLegend(F,420,367,445,523,368,470,485,30);
txt(F.g,PX(1195,1033),PY(860,1476),'LLPS',30,'f-llps-label','middle',{fill:ORANGE});
txt(F.g,PX(1250,1033),PY(213,1476),'RH=99.5%',30,'f-rh-annotation','middle');
arrow(F,1360,225,1440,270,'f-rh-arrow');
xTitle(F,1637,2187,false,'f-x-axis-title');
yTitle(F,1125,1810,false,'f-y-axis-title');
</script>
</body></html>
